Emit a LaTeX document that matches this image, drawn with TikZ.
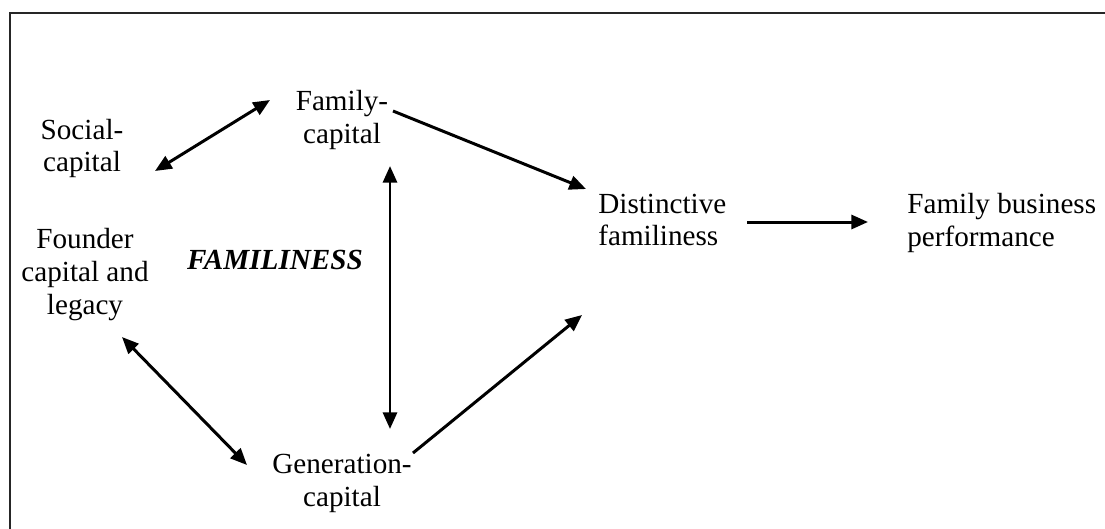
\documentclass[tikz,border=0pt]{standalone}
\usepackage{fontspec}
\setmainfont{Liberation Serif}
\usetikzlibrary{arrows.meta}

\begin{document}
\begin{tikzpicture}[x=0.02cm, y=-0.02cm,
        lbl/.style={inner sep=0pt, font=\fontsize{16.6}{18.7}\selectfont},
        link/.style={line width=1.7pt, -{Triangle[length=9.5pt, width=8pt]}},
        twoway/.style={line width=1.7pt, {Triangle[length=9.5pt, width=8pt]}-{Triangle[length=9.5pt, width=8pt]}}]
        \useasboundingbox (0,0) rectangle (1105,528);
        \draw[line width=1.2pt, black!85] (10,530) -- (10,13) -- (1107,13);

        \node[lbl, align=center] (Social) at (82,148.5) {Social-\\capital};
        \node[lbl, align=center] (Family) at (342,120) {Family-\\capital};
        \node[lbl, align=left, anchor=west] (Distinct) at (598,220) {Distinctive\\familiness};
        \node[lbl, align=left, anchor=west] (Perf) at (907,223) {Family business\\performance};
        \node[lbl, align=center] (Founder) at (85,274.5) {Founder\\capital and\\legacy};
        \node[lbl, font=\fontsize{16.6}{18.7}\selectfont\bfseries\itshape] (Fam) at (275,260) {FAMILINESS};
        \node[lbl, align=center] (Gen) at (342,483.5) {Generation-\\capital};

        \draw[twoway] ([shift={(73,22.5)}]Social.center) -- ([shift={(-72,-20)}]Family.center);
        \draw[link] ([shift={(51,-9)}]Family.center) -- ([shift={(-12,-31)}]Distinct.west);
        \draw[twoway] ([shift={(48,46)}]Family.center) -- ([shift={(48,-54.5)}]Gen.center);
        \draw[link] ([shift={(71,-30.5)}]Gen.center) -- ([shift={(-16,95)}]Distinct.west);
        \draw[twoway] ([shift={(37,62.5)}]Founder.center) -- ([shift={(-95,-18.5)}]Gen.center);
        \draw[link] ([shift={(149,2)}]Distinct.west) -- ([shift={(-39,-1)}]Perf.west);
    \end{tikzpicture}
\end{document}
